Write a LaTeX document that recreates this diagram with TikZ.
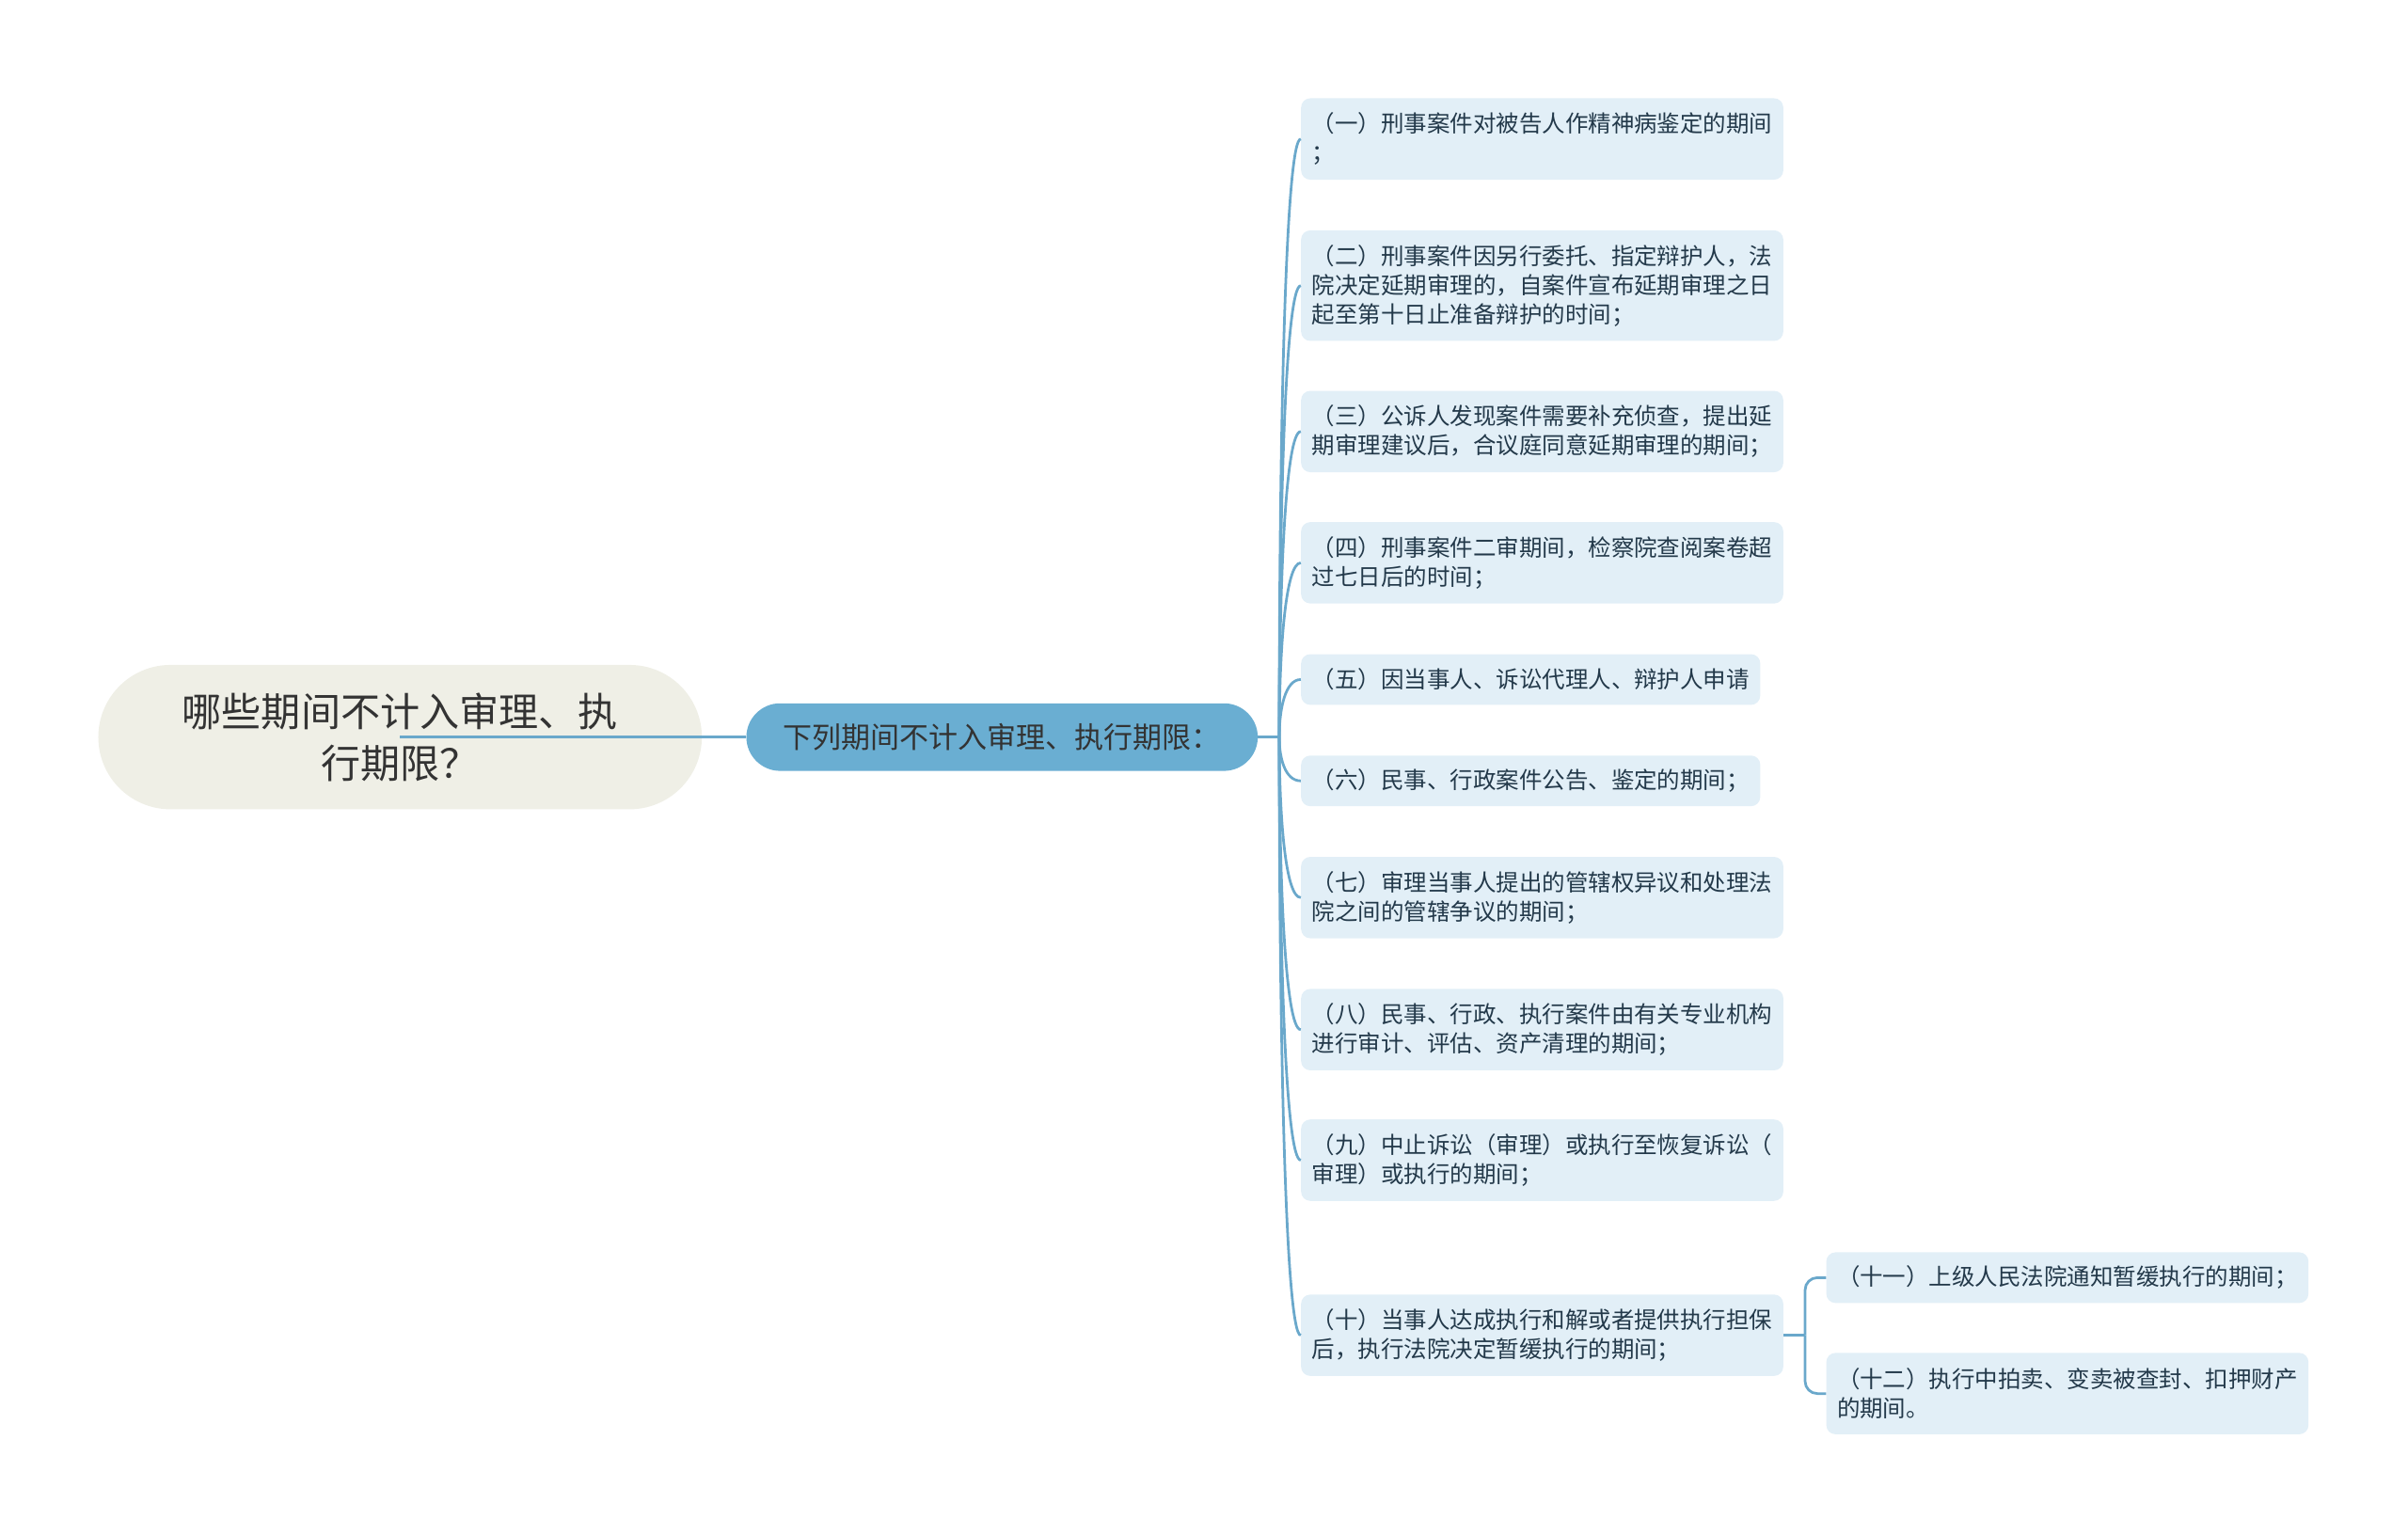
\documentclass[tikz,border=0pt]{standalone}
\usepackage{fontspec}
\setmainfont{Noto Sans CJK SC}
\usepackage{xcolor}
\usepackage{tikz}
\usetikzlibrary{calc,positioning}

\definecolor{rootfill}{HTML}{EFEFE6}
\definecolor{topicfill}{HTML}{6AAED2}
\definecolor{itemfill}{HTML}{E2EFF7}
\definecolor{linecolor}{HTML}{6AA8CB}
\definecolor{itemtext}{HTML}{23394A}
\definecolor{darktext}{HTML}{333333}

\begin{document}
\begin{tikzpicture}[
        x=1pt, y=-1pt,
        rootbox/.style={rectangle, rounded corners=47pt, fill=rootfill, minimum width=393pt, minimum height=94pt, align=center, text=darktext, font=\fontsize{25.8}{34}\selectfont},
        topicbox/.style={rectangle, rounded corners=22pt, fill=topicfill, minimum width=333pt, minimum height=44pt, text=darktext, font=\fontsize{19}{23}\selectfont},
        itembox/.style={rectangle, rounded corners=6pt, fill=itemfill, anchor=west, align=left, inner xsep=7pt, inner ysep=3pt, text=itemtext, font=\fontsize{15}{19}\selectfont},
        oneline/.style={minimum height=33pt},
        twoline/.style={minimum height=53pt},
        threeline/.style={minimum height=72pt},
        connector/.style={draw=linecolor, line width=1.7pt},
        curvelink/.style={connector, to path={.. controls ($(\tikztostart)!0.5!(\tikztostart |- \tikztotarget)$) and ($(\tikztotarget)+(-10pt,0)$) .. (\tikztotarget)}}
    ]
    \useasboundingbox (0,0) rectangle (1568,999);

    % Question and topic
    \node[rootbox] (question) at (260.5,480) {哪些期间不计入审理、执\\行期限？};
    \node[topicbox] (periods) at (652.5,480) {下列期间不计入审理、执行期限：};
    \coordinate (trunk) at (833,480);

    % Periods not counted
    \node[itembox, twoline] (first) at (847,90.5) {（一）刑事案件对被告人作精神病鉴定的期间\\；};
    \node[itembox, threeline] (second) at (847,186) {（二）刑事案件因另行委托、指定辩护人，法\\院决定延期审理的，自案件宣布延期审理之日\\起至第十日止准备辩护的时间；};
    \node[itembox, twoline] (third) at (847,281) {（三）公诉人发现案件需要补充侦查，提出延\\期审理建议后，合议庭同意延期审理的期间；};
    \node[itembox, twoline] (fourth) at (847,366.5) {（四）刑事案件二审期间，检察院查阅案卷超\\过七日后的时间；};
    \node[itembox, oneline] (fifth) at (847,442.5) {（五）因当事人、诉讼代理人、辩护人申请};
    \node[itembox, oneline] (sixth) at (847,508.5) {（六）民事、行政案件公告、鉴定的期间；};
    \node[itembox, twoline] (seventh) at (847,584.5) {（七）审理当事人提出的管辖权异议和处理法\\院之间的管辖争议的期间；};
    \node[itembox, twoline] (eighth) at (847,670.5) {（八）民事、行政、执行案件由有关专业机构\\进行审计、评估、资产清理的期间；};
    \node[itembox, twoline] (ninth) at (847,755.5) {（九）中止诉讼（审理）或执行至恢复诉讼（\\审理）或执行的期间；};
    \node[itembox, twoline] (tenth) at (847,869.5) {（十）当事人达成执行和解或者提供执行担保\\后，执行法院决定暂缓执行的期间；};

    % Sub periods of the tenth
    \node[itembox, oneline] (eleventh) at (1189,832) {（十一）上级人民法院通知暂缓执行的期间；};
    \node[itembox, twoline] (twelfth) at (1189,907.5) {（十二）执行中拍卖、变卖被查封、扣押财产\\的期间。};

    % Connectors
    \draw[connector] (question.center) -- (periods.west);
    \draw[connector] (periods.east) -- (trunk);
    \draw[curvelink] (trunk) to (first.west);
    \draw[curvelink] (trunk) to (second.west);
    \draw[curvelink] (trunk) to (third.west);
    \draw[curvelink] (trunk) to (fourth.west);
    \draw[curvelink] (trunk) to (fifth.west);
    \draw[curvelink] (trunk) to (sixth.west);
    \draw[curvelink] (trunk) to (seventh.west);
    \draw[curvelink] (trunk) to (eighth.west);
    \draw[curvelink] (trunk) to (ninth.west);
    \draw[curvelink] (trunk) to (tenth.west);

    % Fork to the sub periods
    \coordinate (fork) at ([xshift=14pt]tenth.east);
    \draw[connector] (tenth.east) -- (fork);
    \draw[connector, rounded corners=8pt] (fork) |- (eleventh.west);
    \draw[connector, rounded corners=8pt] (fork) |- (twelfth.west);

\end{tikzpicture}
\end{document}
